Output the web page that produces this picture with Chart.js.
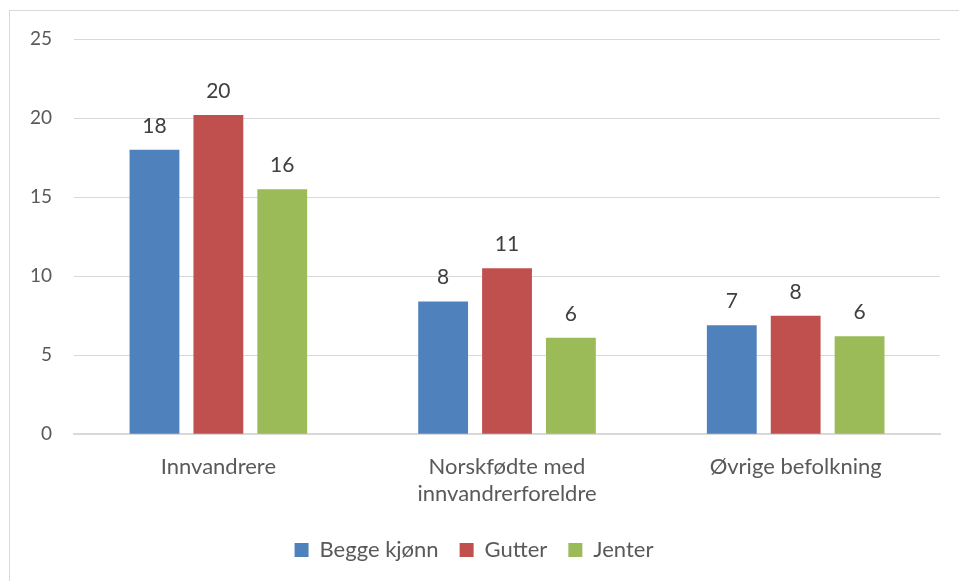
<!DOCTYPE html>
<html>
<head>
<meta charset="utf-8">
<script src="https://cdn.jsdelivr.net/npm/chart.js@4"></script>
<style>
  html, body { margin: 0; padding: 0; background: #fff; }
  #wrap { position: relative; width: 959px; height: 581px; overflow: hidden; }
  #frame { position: absolute; left: 9px; top: 10px; width: 1000px; height: 1000px; border: 1px solid #d9d9d9; box-sizing: border-box; }
  canvas { position: absolute; left: 0; top: 0; }
</style>
</head>
<body>
<div id="wrap">
  <div id="frame"></div>
  <canvas id="chart" width="959" height="581"></canvas>
</div>
<script>
// categories and series
var categories = ["Innvandrere", ["Norskfødte med", "innvandrerforeldre"], "Øvrige befolkning"];
var beggeKjonn = [18.0, 8.4, 6.9];
var gutter = [20.2, 10.5, 7.5];
var jenter = [15.5, 6.1, 6.2];
var yTicks = [0, 5, 10, 15, 20, 25];

var FONT = "Lato, 'Open Sans', sans-serif";
var TXT = '#595959';

// draw rounded value above each bar
var valueLabels = {
    id: 'valueLabels',
    afterDatasetsDraw: function(chart) {
        var ctx = chart.ctx;
        ctx.save();
        ctx.font = '21px ' + FONT;
        ctx.fillStyle = '#404040';
        ctx.textAlign = 'center';
        ctx.textBaseline = 'alphabetic';
        chart.data.datasets.forEach(function(ds, i) {
            var meta = chart.getDatasetMeta(i);
            meta.data.forEach(function(bar, j) {
                ctx.fillText(Math.round(ds.data[j]), bar.x, bar.y - 17);
            });
        });
        ctx.restore();
    }
};

var ctx = document.getElementById('chart');
var myChart = new Chart(ctx, {
    type: 'bar',
    data: {
        labels: categories,
        datasets: [
            { label: 'Begge kjønn', data: beggeKjonn, backgroundColor: '#4F81BD' },
            { label: 'Gutter', data: gutter, backgroundColor: '#C0504D' },
            { label: 'Jenter', data: jenter, backgroundColor: '#9BBB59' }
        ]
    },
    options: {
        responsive: false,
        animation: false,
        categoryPercentage: 0.664,
        barPercentage: 0.78,
        layout: { padding: { top: 39, right: 19, left: 8, bottom: 10 } },
        scales: {
            y: {
                min: 0,
                max: 25,
                afterBuildTicks: function(axis) {
                    axis.ticks = yTicks.map(function(v) { return { value: v }; });
                },
                grid: { color: '#d9d9d9', lineWidth: 1, drawTicks: false },
                border: { display: false },
                ticks: { color: TXT, font: { family: FONT, size: 19 }, padding: 22 }
            },
            x: {
                grid: { display: false },
                border: { color: '#d9d9d9', width: 2 },
                ticks: { color: TXT, font: { family: FONT, size: 22, lineHeight: 1.22 }, padding: 11, maxRotation: 0 }
            }
        },
        plugins: {
            legend: {
                display: true,
                position: 'bottom',
                labels: {
                    color: TXT,
                    font: { family: FONT, size: 22 },
                    boxWidth: 14,
                    boxHeight: 14,
                    padding: 21
                }
            },
            tooltip: { enabled: false }
        }
    },
    plugins: [valueLabels]
});
</script>
</body>
</html>
